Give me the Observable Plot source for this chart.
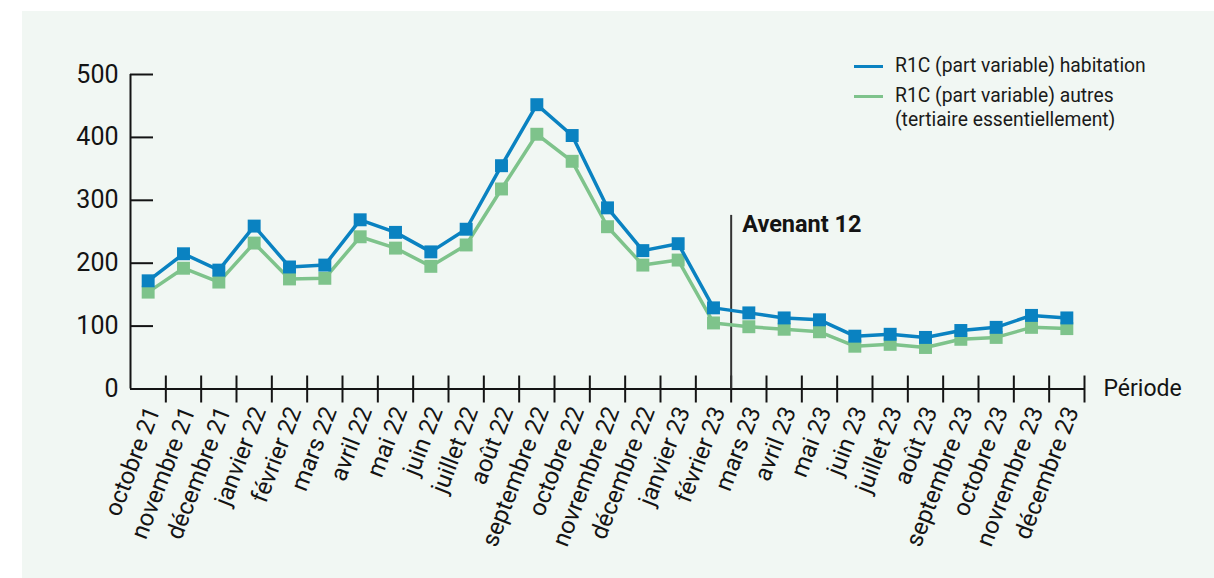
<!DOCTYPE html>
<html>
<head>
<meta charset="utf-8">
<script src="https://cdn.jsdelivr.net/npm/d3@7"></script>
<script src="https://cdn.jsdelivr.net/npm/@observablehq/plot@0.6"></script>
<style>
  html, body { margin: 0; padding: 0; background: #ffffff; }
  body { width: 1214px; height: 578px; position: relative; overflow: hidden; font-family: Roboto, sans-serif; color: #111; }
  #panel { position: absolute; left: 22px; top: 11px; width: 1192px; height: 567px; background: #f1f7f3; }
  #chart { position: absolute; left: 0; top: 0; }
  #legend { position: absolute; left: 854px; top: 54px; font-size: 19.3px; color: #1a1a1a; }
  .row { position: relative; padding-left: 41px; line-height: 24px; }
  .sw { position: absolute; left: 0; top: 11px; width: 29px; height: 3px; }
</style>
</head>
<body>
<div id="panel"></div>
<div id="chart"></div>
<div id="legend"></div>
<script>
const months = ["octobre 21","novembre 21","décembre 21","janvier 22","février 22","mars 22","avril 22","mai 22","juin 22","juillet 22","août 22","septembre 22","octobre 22","novrembre 22","décembre 22","janvier 23","février 23","mars 23","avril 23","mai 23","juin 23","juillet 23","août 23","septembre 23","octobre 23","novrembre 23","décembre 23"];
const habitation = [172, 215, 189, 259, 194, 197, 269, 249, 218, 254, 355, 452, 403, 288, 220, 231, 129, 121, 113, 110, 84, 87, 82, 93, 98, 117, 113];
const autres = [154, 192, 170, 232, 175, 176, 242, 224, 195, 229, 318, 405, 362, 258, 197, 205, 105, 99, 95, 91, 68, 71, 66, 79, 82, 98, 96];
const yTicks = [0, 100, 200, 300, 400, 500];
const seriesNames = ["R1C (part variable) habitation", "R1C (part variable) autres<br>(tertiaire essentiellement)"];
const annotation = {label: "Avenant 12", month: "mars 23"};
const xTitle = "Période";

const blue = "#0a82c1";
const green = "#7ec38b";
const ink = "#141414";

const data = months.map((m, i) => ({m, pos: i + 0.5, hab: habitation[i], aut: autres[i]}));
const boundaries = d3.range(1, months.length + 1);
const annX = months.indexOf(annotation.month);

const chart = Plot.plot({
  width: 1214,
  height: 578,
  marginLeft: 130,
  marginRight: 130,
  marginTop: 74,
  marginBottom: 189.5,
  x: {domain: [0, months.length], axis: null, label: null},
  y: {domain: [0, 500], axis: null, label: null},
  style: {background: "transparent", fontFamily: "Roboto, sans-serif", color: ink},
  marks: [
    // y axis labels
    Plot.axisY(yTicks, {anchor: "left", label: null, tickSize: 0, tickPadding: 12, fontSize: 25, tickFormat: d => String(d)}),
    // y ticks
    Plot.ruleY(yTicks, {x1: 0, x2: 0, insetRight: -23, stroke: ink, strokeWidth: 2}),
    // x tick marks at category boundaries
    Plot.ruleX(boundaries, {x: d => d, y1: 0, y2: 0, insetTop: -13, insetBottom: -14, stroke: ink, strokeWidth: 2}),
    // axis lines
    Plot.ruleY([0], {stroke: ink, strokeWidth: 2}),
    Plot.ruleX([0], {y1: 0, y2: 500, stroke: ink, strokeWidth: 2}),
    // x labels
    Plot.axisX(data.map(d => d.pos), {anchor: "bottom", label: null, tickSize: 0, tickPadding: 19, dx: 5, tickRotate: -69, fontSize: 24, tickFormat: d => months[Math.floor(d)]}),
    Plot.text([xTitle], {x: months.length, y: 0, dx: 19, textAnchor: "start", lineAnchor: "middle", fontSize: 23, fill: ink}),
    // annotation
    Plot.ruleX([annX], {y1: 0, y2: 276, stroke: "#333", strokeWidth: 2}),
    Plot.text([annotation.label], {x: annX, y: 262, dx: 11, textAnchor: "start", lineAnchor: "middle", fontSize: 23.5, fontWeight: "bold", fill: ink}),
    // series
    Plot.line(data, {x: "pos", y: "aut", stroke: green, strokeWidth: 3.5}),
    Plot.dot(data, {x: "pos", y: "aut", symbol: "square", r: 7.3, fill: green, stroke: "none"}),
    Plot.line(data, {x: "pos", y: "hab", stroke: blue, strokeWidth: 3.5}),
    Plot.dot(data, {x: "pos", y: "hab", symbol: "square", r: 7.3, fill: blue, stroke: "none"})
  ]
});
document.getElementById("chart").appendChild(chart);

const legend = document.getElementById("legend");
[blue, green].forEach((c, i) => {
  const row = document.createElement("div");
  row.className = "row";
  if (i > 0) row.style.marginTop = "6px";
  row.innerHTML = `<span class="sw" style="background:${c}"></span>${seriesNames[i]}`;
  legend.appendChild(row);
});
</script>
</body>
</html>
